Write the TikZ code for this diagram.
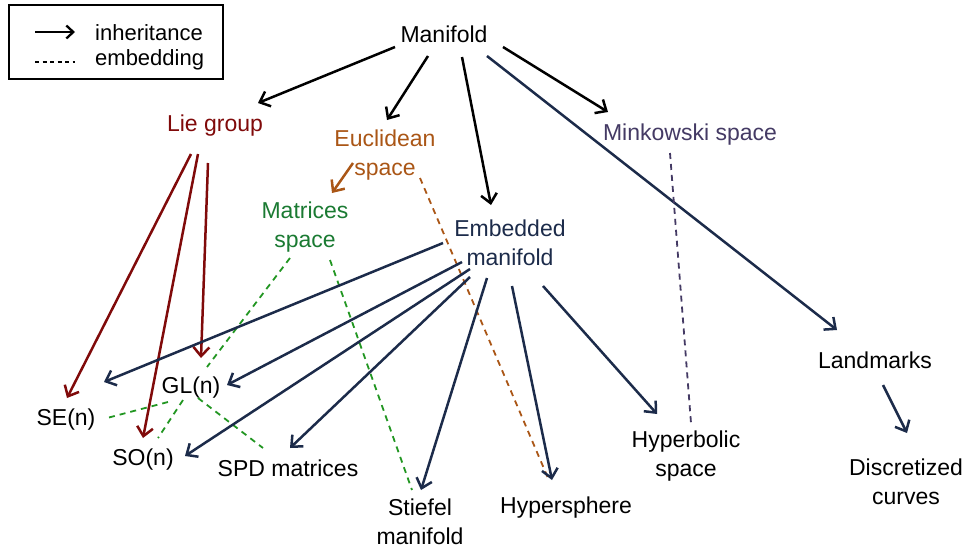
\documentclass[tikz,border=0pt]{standalone}
\usepackage{fontspec}
\setmainfont{Liberation Sans}
\usetikzlibrary{arrows.meta}

\definecolor{navy}{RGB}{28,43,74}
\definecolor{liered}{RGB}{128,10,10}
\definecolor{eucbrown}{RGB}{170,86,22}
\definecolor{matgreen}{RGB}{26,122,50}
\definecolor{dashgreen}{RGB}{34,150,34}
\definecolor{minkpurple}{RGB}{68,58,100}

\tikzset{
  lbl/.style={inner sep=0pt, align=center, font=\fontsize{23}{28.5}\selectfont},
  inh/.style={line width=2.5pt, -{Straight Barb[length=9pt,width=16pt]}},
  emb/.style={line width=1.8pt, dash pattern=on 6pt off 5pt},
}

\begin{document}
\begin{tikzpicture}[x=1pt,y=-1pt]
\useasboundingbox (0,0) rectangle (963,550);

% legend
\node[draw, line width=1.5pt, minimum width=214pt, minimum height=74pt, inner sep=0pt] (legend) at (116,42) {};
\coordinate (la1) at (35,32);
\coordinate (la2) at (75,32);
\coordinate (lb1) at (35,62);
\coordinate (lb2) at (75,62);
\draw[line width=2.3pt, -{Straight Barb[length=7pt,width=13pt]}] (la1) -- (la2);
\draw[line width=1.3pt, dash pattern=on 4pt off 3.5pt] (lb1) -- (lb2);
\node[lbl, anchor=west, font=\fontsize{22}{26}\selectfont] (linh) at (95,33) {inheritance};
\node[lbl, anchor=west, font=\fontsize{22}{26}\selectfont] (lemb) at (95,60) {embedding};

% spaces
\node[lbl] (man) at (444,34) {Manifold};
\node[lbl, text=liered] (lie) at (215,126) {Lie group};
\node[lbl, text=eucbrown] (euc) at (385,155) {Euclidean\\space};
\node[lbl, text=minkpurple] (mink) at (690,135) {Minkowski space};
\node[lbl, text=matgreen] (mat) at (305,227) {Matrices\\space};
\node[lbl, text=navy] (emb) at (510,243) {Embedded\\manifold};
\node[lbl] (land) at (875,360) {Landmarks};
\node[lbl] (gl) at (191,388) {GL(n)};
\node[lbl] (se) at (66,420) {SE(n)};
\node[lbl] (so) at (143,460) {SO(n)};
\node[lbl] (spd) at (288,468) {SPD matrices};
\node[lbl] (stief) at (420,522) {Stiefel\\manifold};
\node[lbl] (hsph) at (566,508) {Hypersphere};
\node[lbl] (hyp) at (686,456) {Hyperbolic\\space};
\node[lbl] (disc) at (906,482) {Discretized\\curves};

% inheritance from Manifold
\draw[inh, black] ([shift={(-49,13)}]man.center) -- ([shift={(43,-23)}]lie.center);
\draw[inh, black] ([shift={(-16,22)}]man.center) -- ([shift={(2,-35)}]euc.center);
\draw[inh, black] ([shift={(18,23)}]man.center) -- ([shift={(-19,-38)}]emb.center);
\draw[inh, black] ([shift={(59,13)}]man.center) -- ([shift={(-82,-23)}]mink.center);
\draw[inh, navy] ([shift={(43,22)}]man.center) -- ([shift={(-38,-30)}]land.center);

% Lie groups
\draw[inh, liered] ([shift={(-24,28)}]lie.center) -- ([shift={(1,-22)}]se.center);
\draw[inh, liered] ([shift={(-17,28)}]lie.center) -- ([shift={(0,-22)}]so.center);
\draw[inh, liered] ([shift={(-7,37)}]lie.center) -- ([shift={(10,-30)}]gl.center);

% Euclidean space
\draw[inh, eucbrown] ([shift={(-32,8)}]euc.center) -- ([shift={(27,-34)}]mat.center);
\draw[emb, eucbrown] ([shift={(35,23)}]euc.center) -- ([shift={(-18,-30)}]hsph.center);

% Minkowski space
\draw[emb, minkpurple] ([shift={(-20,18)}]mink.center) -- ([shift={(5,-33)}]hyp.center);

% matrix spaces
\draw[emb, dashgreen] ([shift={(25,33)}]mat.center) -- ([shift={(-8,-32)}]stief.center);
\draw[emb, dashgreen] ([shift={(-15,31)}]mat.center) -- ([shift={(16,-21)}]gl.center);
\draw[emb, dashgreen] ([shift={(-23,14)}]gl.center) -- ([shift={(41,-2)}]se.center);
\draw[emb, dashgreen] ([shift={(-8,12)}]gl.center) -- ([shift={(15,-22)}]so.center);
\draw[emb, dashgreen] ([shift={(7,10)}]gl.center) -- ([shift={(-25,-20)}]spd.center);

% embedded manifolds
\draw[inh, navy] ([shift={(-67,0)}]emb.center) -- ([shift={(38,-38)}]se.center);
\draw[inh, navy] ([shift={(-48,19)}]emb.center) -- ([shift={(36,-3)}]gl.center);
\draw[inh, navy] ([shift={(-40,26)}]emb.center) -- ([shift={(42,-4)}]so.center);
\draw[inh, navy] ([shift={(-40,34)}]emb.center) -- ([shift={(2,-20)}]spd.center);
\draw[inh, navy] ([shift={(-23,35)}]emb.center) -- ([shift={(1,-32)}]stief.center);
\draw[inh, navy] ([shift={(2,43)}]emb.center) -- ([shift={(-14,-28)}]hsph.center);
\draw[inh, navy] ([shift={(33,43)}]emb.center) -- ([shift={(-29,-42)}]hyp.center);

% landmarks
\draw[inh, navy] ([shift={(8,25)}]land.center) -- ([shift={(1,-49)}]disc.center);
\end{tikzpicture}
\end{document}
